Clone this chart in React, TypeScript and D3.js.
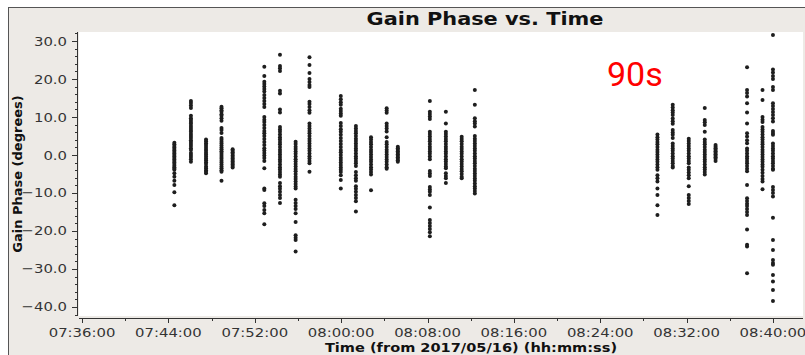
import React from "react";
import * as d3 from "d3";

// ---- Data ----
const scanTimes: string[] = [
  "07:44:33", "07:46:05", "07:47:29", "07:48:55", "07:49:57",
  "07:52:53", "07:54:20", "07:55:47", "07:57:04", "07:59:58",
  "08:01:22", "08:02:46", "08:04:13", "08:05:15",
  "08:08:13", "08:09:42", "08:11:10", "08:12:23",
  "08:29:18", "08:30:43", "08:32:12", "08:33:41", "08:34:41",
  "08:37:36", "08:39:02", "08:40:00",
];

const phaseValues: number[][] = [
  [3.2, 2.8, 2.4, 2.0, 1.6, 1.2, 0.8, 0.4, 0, -0.4, -0.8, -1.2, -1.6, -2.0, -2.4, -2.8, -3.2, -3.6, -3.9, -4.8, -5.7, -6.8, -7.9, -9.8, -13.2],
  [14.2, 13.7, 13.0, 12.4, 10.3, 9.7, 9.2, 8.7, 8.2, 7.6, 7.1, 6.6, 6.1, 5.5, 5.0, 4.5, 3.9, 3.4, 2.9, 2.4, 1.8, 1.3, 0.5, 0, -0.5, -1.1, -1.8],
  [4.1, 3.6, 3.1, 2.6, 2.1, 1.6, 1.1, 0.6, 0.1, -0.4, -0.9, -1.4, -1.9, -2.4, -3.0, -3.5, -4.0, -4.4, -4.8],
  [12.7, 12.3, 11.8, 11.4, 10.7, 10.3, 9.7, 9.0, 7.1, 6.6, 5.8, 4.5, 4.0, 3.5, 3.0, 2.5, 2.0, 1.5, 1.0, 0.5, 0, -0.5, -1.0, -1.5, -2.0, -2.5, -3.0, -3.5, -4.0, -4.4, -6.8],
  [1.5, 1.1, 0.7, 0.3, -0.1, -0.5, -0.9, -1.3, -1.7, -2.1, -2.5, -2.9, -3.3],
  [23.2, 20.8, 19.3, 18.7, 18.0, 17.4, 16.7, 15.8, 15.0, 14.2, 13.4, 12.6, 10.0, 9.3, 8.7, 7.9, 7.1, 6.3, 5.7, 5.0, 4.2, 3.4, 2.6, 1.8, 1.2, 0.5, -0.1, -0.8, -1.6, -3.5, -8.8, -9.2, -12.7, -13.4, -14.5, -15.3, -18.2],
  [26.4, 23.4, 22.8, 22.1, 16.9, 16.2, 12.0, 11.2, 7.4, 6.7, 6.1, 5.4, 4.7, 4.1, 3.4, 2.8, 2.1, 1.4, 0.8, 0.1, -0.5, -1.2, -1.8, -2.5, -3.2, -3.8, -4.5, -5.1, -5.7, -7.4, -8.2, -8.9, -9.7, -10.5, -11.3, -12.6],
  [3.5, 2.9, 2.2, 1.6, 0.9, 0.3, -0.4, -1.1, -1.7, -2.4, -3.0, -3.7, -4.3, -5.0, -5.7, -6.3, -7.0, -7.6, -8.3, -8.8, -11.8, -12.6, -13.4, -14.2, -15.3, -17.6, -21.1, -21.8, -22.4, -25.4],
  [25.7, 23.7, 21.6, 20.0, 19.2, 18.4, 17.9, 14.0, 13.4, 12.6, 11.8, 11.1, 8.3, 7.6, 7.0, 6.3, 5.7, 5.0, 4.3, 3.7, 3.0, 2.4, 1.7, 1.1, 0.4, -0.3, -0.9, -1.6, -2.2, -4.4],
  [15.5, 14.7, 13.9, 13.2, 12.2, 11.6, 10.9, 10.3, 8.4, 7.6, 6.8, 6.1, 5.3, 4.5, 3.7, 2.9, 2.1, 1.3, 0.7, 0, -0.7, -1.3, -2.0, -2.6, -3.3, -3.9, -4.5, -5.3, -6.6, -8.8],
  [7.6, 7.0, 6.3, 5.7, 5.0, 4.3, 3.7, 3.0, 2.4, 1.7, 1.1, 0.4, -0.3, -0.9, -1.6, -2.2, -2.9, -4.5, -5.3, -6.1, -6.8, -8.2, -8.9, -9.7, -10.5, -11.3, -12.2, -14.9],
  [4.7, 4.1, 3.4, 2.8, 2.1, 1.4, 0.8, 0.1, -0.5, -1.2, -1.8, -2.5, -3.2, -3.8, -4.5, -5.1, -9.3],
  [12.3, 11.7, 11.1, 8.3, 7.6, 7.0, 6.2, 4.7, 3.4, 2.8, 2.1, 1.4, 0.8, 0.1, -0.5, -1.2, -1.8, -2.5, -3.2, -3.6],
  [2.2, 1.8, 1.4, 1.0, 0.6, 0.2, -0.2, -0.6, -1.0, -1.4, -1.8],
  [14.2, 11.4, 10.8, 10.1, 9.5, 6.1, 5.5, 4.9, 4.2, 3.6, 2.9, 2.2, 1.6, 0.9, 0.3, -0.4, -1.1, -4.2, -4.9, -5.5, -8.4, -9.1, -9.7, -10.5, -13.8, -17.1, -17.9, -18.7, -19.5, -20.3, -21.4],
  [11.4, 8.3, 6.1, 5.5, 4.9, 4.2, 3.6, 2.9, 2.2, 1.6, 0.9, 0.3, -0.4, -1.1, -1.7, -2.4, -3.0, -3.5, -4.8, -5.5, -6.1, -7.4],
  [4.8, 4.2, 3.6, 2.9, 2.2, 1.6, 0.9, 0.3, -0.4, -1.1, -1.7, -2.4, -3.0, -3.7, -4.3, -5.0, -5.7, -6.1],
  [17.1, 13.2, 9.7, 8.9, 8.3, 7.5, 5.0, 4.3, 3.7, 3.0, 2.4, 1.7, 1.1, 0.4, -0.3, -0.9, -1.6, -2.2, -2.9, -3.6, -4.2, -4.9, -5.5, -6.2, -6.8, -7.5, -8.2, -8.8, -9.5, -10.1],
  [5.4, 4.7, 4.1, 3.4, 2.8, 2.1, 1.4, 0.8, 0.1, -0.5, -1.2, -1.8, -2.5, -3.2, -3.9, -5.3, -6.1, -7.0, -8.8, -10.5, -13.2, -15.8],
  [13.2, 12.5, 11.8, 11.2, 10.5, 9.6, 8.9, 8.2, 6.6, 5.9, 5.3, 4.5, 3.0, 2.4, 1.7, 1.1, 0.4, -0.3, -0.9, -1.6, -2.2, -2.9, -3.3],
  [4.3, 3.7, 3.0, 2.4, 1.7, 1.1, 0.4, -0.3, -0.9, -1.6, -2.2, -3.3, -3.9, -4.6, -5.3, -6.1, -8.2, -10.5, -11.3, -12.1, -12.9],
  [12.4, 9.2, 8.6, 7.9, 6.1, 4.1, 3.4, 2.8, 2.1, 1.4, 0.8, 0.1, -0.5, -1.2, -1.8, -2.5, -3.2, -3.8, -4.5, -5.1],
  [2.6, 2.2, 1.8, 1.4, 1.0, 0.6, 0.2, -0.2, -0.6, -1.0, -1.6],
  [23.1, 17.1, 16.3, 15.4, 13.6, 11.2, 8.3, 5.7, 4.9, 3.9, 3.1, 1.7, 1.1, 0.4, -0.3, -0.9, -1.6, -2.2, -2.9, -3.6, -4.3, -7.9, -11.4, -12.1, -12.8, -13.4, -14.2, -15.0, -15.8, -19.6, -23.6, -24.1, -31.1],
  [17.1, 14.5, 10.0, 9.3, 8.7, 7.4, 6.7, 6.1, 5.4, 4.7, 4.1, 3.4, 2.8, 2.1, 1.4, 0.8, 0.1, -0.5, -1.2, -1.8, -2.5, -3.1, -3.9, -4.7, -5.5, -6.3, -7.0, -9.0],
  [31.6, 22.5, 21.7, 20.8, 20.0, 17.9, 17.1, 13.6, 12.9, 12.1, 11.3, 10.5, 9.7, 8.8, 6.3, 5.8, 5.3, 3.0, 2.4, 1.7, 1.1, 0.4, -0.3, -0.9, -1.6, -2.2, -2.9, -3.6, -3.9, -8.4, -9.2, -10.0, -10.9, -16.5, -22.4, -25.0, -27.6, -28.4, -28.9, -31.6, -33.3, -35.5, -38.4],
];

const xTickLabels: string[] = [
  "07:36:00", "07:44:00", "07:52:00", "08:00:00", "08:08:00",
  "08:16:00", "08:24:00", "08:32:00", "08:40:00",
];
const xMinorTickLabels: string[] = [
  "07:40:00", "07:48:00", "07:56:00", "08:04:00",
  "08:12:00", "08:20:00", "08:28:00", "08:36:00",
];
const yTickValues: number[] = [-40, -30, -20, -10, 0, 10, 20, 30];
const timeDomain: string[] = ["07:35:43", "08:42:47"];
const phaseDomain: number[] = [-42.37, 32.37];

const titleText = "Gain Phase vs. Time";
const xLabel = "Time (from 2017/05/16) (hh:mm:ss)";
const yLabel = "Gain Phase (degrees)";
const annotation = "90s";

// ---- Layout ----
const W = 805;
const H = 355;
const plot = { left: 79, right: 803, top: 32, bottom: 316 };
const font = "'DejaVu Sans', sans-serif";
const SX = 1.16;

export default function App() {
  const parse = d3.timeParse("%H:%M:%S");
  const x = d3
    .scaleTime()
    .domain(timeDomain.map((t) => parse(t) as Date))
    .range([plot.left, plot.right]);
  const y = d3
    .scaleLinear()
    .domain(phaseDomain)
    .range([plot.bottom, plot.top]);

  const minorY = d3.range(-42, 33, 2);

  const points: { cx: number; cy: number; k: string }[] = [];
  scanTimes.forEach((t, i) => {
    const cx = x(parse(t) as Date);
    phaseValues[i].forEach((v, j) => {
      points.push({ cx, cy: y(v), k: `${i}-${j}` });
    });
  });

  const axisY = 318;
  const axisX = 77;

  return (
    <div style={{ position: "absolute", left: 0, top: 0 }}>
      <svg width={W} height={H} style={{ display: "block" }}>
        <rect x={0} y={0} width={W} height={H} fill="#ffffff" />
        <rect x={8} y={7} width={W - 8} height={H - 7} fill="#edeae6" />
        <line x1={8} y1={7.5} x2={W} y2={7.5} stroke="#555" strokeWidth={1} />
        <line x1={8.5} y1={7} x2={8.5} y2={H} stroke="#555" strokeWidth={1} />

        {/* Title */}
        <text
          transform={`translate(485,25) scale(1.14,1)`}
          textAnchor="middle"
          fontFamily={font}
          fontWeight="bold"
          fontSize={18.3}
          fill="#111"
        >
          {titleText}
        </text>

        {/* Plot area */}
        <rect
          x={plot.left}
          y={plot.top}
          width={plot.right - plot.left}
          height={plot.bottom - plot.top}
          fill="#ffffff"
        />

        {/* Points */}
        <g fill="#1e1e1e">
          {points.map((p) => (
            <circle key={p.k} cx={p.cx} cy={p.cy} r={2} />
          ))}
        </g>

        {/* Y axis */}
        <line x1={axisX + 0.5} y1={plot.top} x2={axisX + 0.5} y2={plot.bottom} stroke="#333" />
        {minorY.map((v) => (
          <line key={`my${v}`} x1={axisX - 2} x2={axisX} y1={Math.round(y(v)) + 0.5} y2={Math.round(y(v)) + 0.5} stroke="#333" />
        ))}
        {yTickValues.map((v) => (
          <g key={`yt${v}`}>
            <line x1={axisX - 5} x2={axisX} y1={Math.round(y(v)) + 0.5} y2={Math.round(y(v)) + 0.5} stroke="#333" />
            <text
              transform={`translate(67,${y(v) + 4.5}) scale(${SX},1)`}
              textAnchor="end"
              fontFamily={font}
              fontSize={12.8}
              fill="#333"
            >
              {d3.format(".1f")(v)}
            </text>
          </g>
        ))}
        <text
          transform={`translate(22,${(plot.top + plot.bottom) / 2}) rotate(-90)`}
          textAnchor="middle"
          fontFamily={font}
          fontWeight="bold"
          fontSize={13}
          fill="#111"
        >
          {yLabel}
        </text>

        {/* X axis */}
        <line x1={plot.left} y1={axisY + 0.5} x2={plot.right} y2={axisY + 0.5} stroke="#333" />
        {xMinorTickLabels.map((t) => {
          const px = Math.round(x(parse(t) as Date)) + 0.5;
          return <line key={`mx${t}`} x1={px} x2={px} y1={axisY} y2={axisY + 3} stroke="#333" />;
        })}
        {xTickLabels.map((t) => {
          const xv = x(parse(t) as Date);
          const px = Math.round(xv) + 0.5;
          return (
            <g key={`xt${t}`}>
              <line x1={px} x2={px} y1={axisY} y2={axisY + 5} stroke="#333" />
              <text
                transform={`translate(${xv},337) scale(${SX},1)`}
                textAnchor="middle"
                fontFamily={font}
                fontSize={12.8}
                fill="#333"
              >
                {t}
              </text>
            </g>
          );
        })}
        <text
          transform={`translate(471,352) scale(1.12,1)`}
          textAnchor="middle"
          fontFamily={font}
          fontWeight="bold"
          fontSize={13}
          fill="#111"
        >
          {xLabel}
        </text>

        {/* Annotation */}
        <text x={607} y={86} fontFamily="Roboto, sans-serif" fontSize={34} fill="#ff0000">
          {annotation}
        </text>
      </svg>
    </div>
  );
}
